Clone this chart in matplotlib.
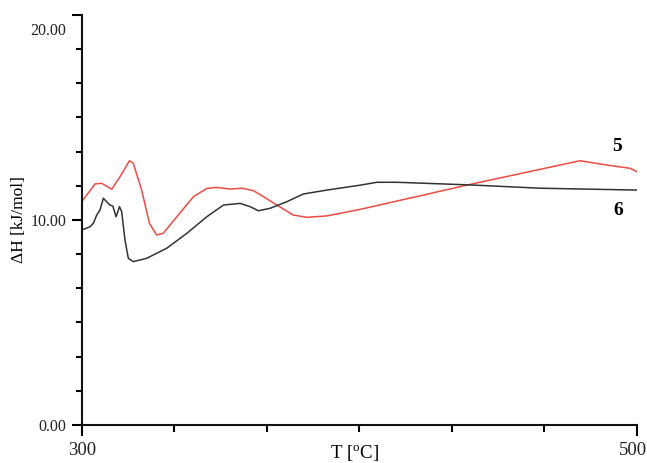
import matplotlib
matplotlib.use('Agg')
import matplotlib.pyplot as plt
from matplotlib.ticker import MultipleLocator, FixedLocator
import matplotlib.transforms as mtransforms

# curve 5 (red)
t5 = [300.0, 304.8, 307.2, 310.8, 313.8, 317.2, 318.6, 321.6, 324.4, 327.0,
      329.4, 334.3, 340.3, 345.1, 348.7, 353.5, 357.7, 361.9, 365.5, 370.3,
      376.3, 381.1, 388.4, 400.4, 420.0, 440.1, 460.0, 479.6, 489.3, 497.7, 500.0]
h5 = [10.89, 11.76, 11.79, 11.50, 12.11, 12.89, 12.76, 11.46, 9.84, 9.27,
      9.35, 10.16, 11.14, 11.54, 11.59, 11.51, 11.55, 11.43, 11.14, 10.73,
      10.24, 10.13, 10.20, 10.52, 11.12, 11.74, 12.32, 12.89, 12.68, 12.52, 12.36]

# curve 6 (black)
t6 = [300.0, 303.0, 304.2, 305.4, 306.6, 307.8, 309.0, 310.2, 311.2, 312.4,
      313.6, 314.4, 315.6, 316.8, 318.6, 323.4, 330.6, 337.9, 345.1, 351.1,
      357.1, 360.7, 363.7, 367.9, 373.9, 379.9, 388.4, 400.4, 406.4, 413.6,
      440.1, 465.3, 500.0]
h6 = [9.51, 9.67, 9.84, 10.24, 10.49, 11.06, 10.89, 10.73, 10.68, 10.16,
      10.65, 10.41, 9.02, 8.13, 7.97, 8.13, 8.62, 9.35, 10.16, 10.73,
      10.81, 10.65, 10.45, 10.57, 10.89, 11.27, 11.46, 11.70, 11.84, 11.84,
      11.71, 11.55, 11.46]

serif = ['Liberation Serif', 'DejaVu Serif']

fig = plt.figure(figsize=(6.47, 4.63), dpi=100)
ax = fig.add_axes([0.1263, 0.0821, 0.8577, 0.8855])

ax.plot(t5, h5, color='#ee4b43', lw=1.1)
ax.plot(t6, h6, color='#333333', lw=1.1)

ax.set_xlim(300, 500)
ax.set_ylim(0, 20)

for s in ['top', 'right']:
    ax.spines[s].set_visible(False)
for s in ['left', 'bottom']:
    ax.spines[s].set_linewidth(1.5)
    ax.spines[s].set_color('#111111')

ax.xaxis.set_major_locator(FixedLocator([300, 500]))
ax.xaxis.set_minor_locator(MultipleLocator(200 / 6))
ax.yaxis.set_major_locator(FixedLocator([0, 10, 20]))
ax.yaxis.set_minor_locator(MultipleLocator(20 / 12))
ax.set_xticklabels(['300', '500'])
ax.set_yticklabels(['0.00', '10.00', '20.00'])

ax.tick_params(axis='x', which='major', length=8, width=1.5, pad=4)
ax.tick_params(axis='x', which='minor', length=5, width=1.5)
ax.tick_params(axis='y', which='major', length=7, width=1.5, pad=4)
ax.tick_params(axis='y', which='minor', length=4, width=1.5)

for lab in ax.get_xticklabels():
    lab.set_family(serif)
    lab.set_fontsize(13.5)
    lab.set_color('#222222')
for lab in ax.get_yticklabels():
    lab.set_family(serif)
    lab.set_fontsize(11.5)
    lab.set_color('#222222')
# top label sits a little below the axis end
ylabs = ax.get_yticklabels()
ylabs[2].set_transform(ylabs[2].get_transform() +
                       mtransforms.ScaledTranslation(0, -10 / 72, fig.dpi_scale_trans))
xlabs = ax.get_xticklabels()
xlabs[1].set_transform(xlabs[1].get_transform() +
                       mtransforms.ScaledTranslation(-3 / 72, 0, fig.dpi_scale_trans))

ax.set_xlabel('T [$\\mathregular{^{o}}$C]', family=serif, fontsize=13.5)
ax.xaxis.label.set_va('center')
ax.xaxis.set_label_coords(0.492, -0.068)
ax.set_ylabel('ΔH [kJ/mol]', family=serif, fontsize=12.5)
ax.yaxis.set_label_coords(-0.098, 0.5)

ax.text(493, 13.6, '5', family=serif, fontsize=14, fontweight='bold',
        ha='center', va='center')
ax.text(493.4, 10.44, '6', family=serif, fontsize=14, fontweight='bold',
        ha='center', va='center')

fig.savefig('out.png', dpi=100)
